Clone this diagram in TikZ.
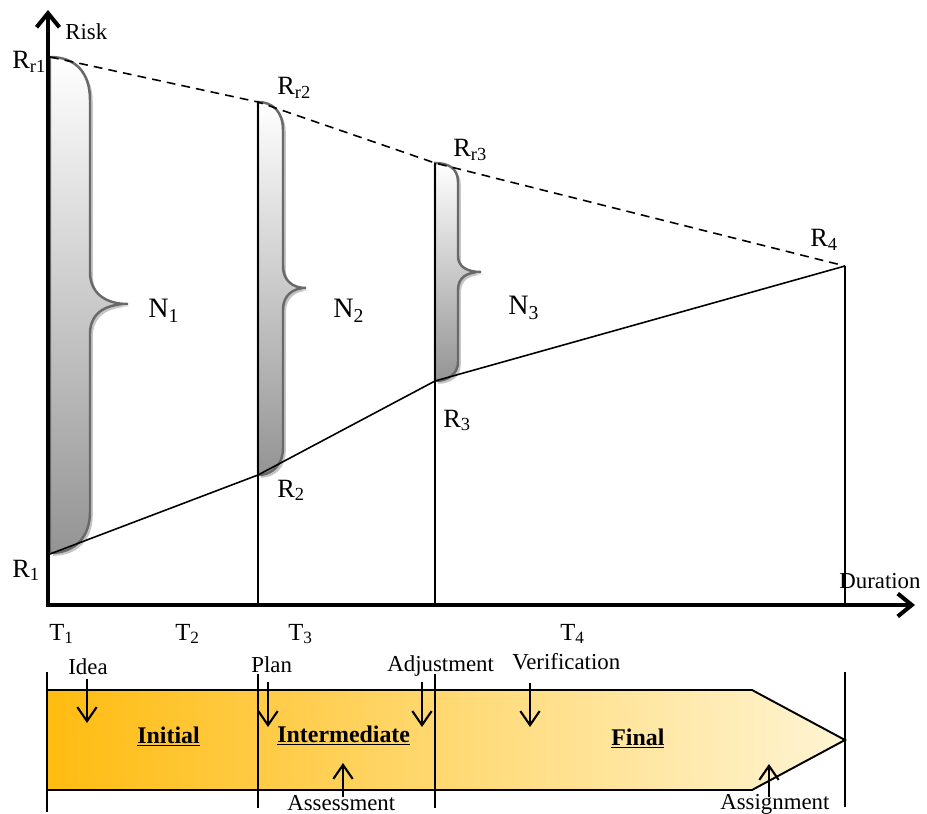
\documentclass[tikz,border=0pt]{standalone}
\usepackage{fontspec}
\setmainfont{Liberation Serif}
\usetikzlibrary{arrows.meta,shadows}
\definecolor{braceline}{RGB}{105,105,105}
\definecolor{phasel}{RGB}{255,188,16}
\definecolor{phaser}{RGB}{255,245,212}

\begin{document}
\begin{tikzpicture}[x=0.02cm,y=-0.02cm,
    axis/.style={line width=2.3pt,line join=miter},
    riskline/.style={line width=0.9pt},
    guide/.style={line width=0.7pt},
    tickline/.style={line width=1.1pt},
    evt/.style={line width=1.2pt,-{Straight Barb[length=8pt,width=11pt]}},
    bracefill/.style={draw=braceline,line width=1.4pt,top color=white,bottom color=black!42,
      drop shadow={shadow xshift=1.6pt,shadow yshift=-1.6pt,fill=black!45}},
    phase/.style={draw,line width=1.1pt,left color=phasel,right color=phaser}]
    \tikzstyle{every node}=[inner sep=0pt,anchor=base west]
    \tikzstyle{rlab}=[font=\fontsize{15}{17}\selectfont]
    \tikzstyle{nlab}=[font=\fontsize{16}{18}\selectfont]
    \tikzstyle{tlab}=[font=\fontsize{14}{16}\selectfont]
    \tikzstyle{slab}=[font=\fontsize{13}{15}\selectfont]
    \tikzstyle{plab}=[font=\fontsize{13.6}{16}\selectfont\bfseries]
    \useasboundingbox (0,0) rectangle (927,814);
    % risk points
    \coordinate (Rr1) at (50,57);
    \coordinate (Rr2) at (258,102);
    \coordinate (Rr3) at (435,163);
    \coordinate (R4) at (845,266);
    \coordinate (R1) at (50,554);
    \coordinate (R2) at (258,475);
    \coordinate (R3) at (435,381);
    \coordinate (O) at (48,605);
    \coordinate (ytip) at (48,10);
    \coordinate (xtip) at (915,605);
    \coordinate (B2) at (258,605);
    \coordinate (B3) at (435,605);
    \coordinate (B4) at (845,605);
    % braces
    \path[bracefill] (50,57) .. controls (75,57) and (90,72) .. (90,100) -- (90,272)
      .. controls (90,292) and (104,304) .. (128,304) .. controls (104,304) and (90,314) .. (90,334)
      -- (90,512) .. controls (90,537) and (75,553) .. (50,553) -- cycle; %N1
    \path[bracefill] (258,102) .. controls (273,102) and (283,112) .. (283,130) -- (283,266)
      .. controls (283,280) and (292,288) .. (306,288) .. controls (292,288) and (283,296) .. (283,310)
      -- (283,448) .. controls (283,465) and (272,475) .. (258,475) -- cycle; %N2
    \path[bracefill] (435,163) .. controls (448,163) and (458,168) .. (458,182) -- (458,256)
      .. controls (458,266) and (466,272) .. (481,272) .. controls (466,272) and (458,278) .. (458,290)
      -- (458,362) .. controls (458,374) and (448,381) .. (435,381) -- cycle; %N3
    % lines
    \draw[riskline,dash pattern=on 5pt off 3.5pt] (Rr1) -- (Rr2) -- (Rr3) -- (R4);
    \draw[riskline] (R1) -- (R2) -- (R3) -- (R4);
    \draw[guide] (Rr2) -- (B2);
    \draw[guide] (Rr3) -- (B3);
    \draw[guide] (R4) -- (B4);
    \draw[axis,{Straight Barb[length=8pt,width=13pt]}-{Straight Barb[length=8pt,width=13pt]}]
      (ytip) -- (O) -- (xtip);
    % labels
    \node[slab] (risk) at (65,40) {Risk};
    \node[slab] (dur) at (839,588) {Duration};
    \node[rlab] (lRr1) at (12,69) {R\textsubscript{r1}};
    \node[rlab] (lRr2) at (277,95) {R\textsubscript{r2}};
    \node[rlab] (lRr3) at (453,157) {R\textsubscript{r3}};
    \node[rlab] (lR4) at (810,247) {R\textsubscript{4}};
    \node[rlab] (lR1) at (12,577) {R\textsubscript{1}};
    \node[rlab] (lR2) at (277,497) {R\textsubscript{2}};
    \node[rlab] (lR3) at (443,427) {R\textsubscript{3}};
    \node[nlab] (lN1) at (148,318) {N\textsubscript{1}};
    \node[nlab] (lN2) at (333,318) {N\textsubscript{2}};
    \node[nlab] (lN3) at (508,315) {N\textsubscript{3}};
    \node[tlab] (lT1) at (49,640) {T\textsubscript{1}};
    \node[tlab] (lT2) at (175,640) {T\textsubscript{2}};
    \node[tlab] (lT3) at (288,640) {T\textsubscript{3}};
    \node[tlab] (lT4) at (560,640) {T\textsubscript{4}};
    % phases
    \path[phase] (47,690) -- (752,690) -- (845,740) -- (752,790) -- (47,790) -- cycle;
    \foreach \x/\ya/\yb in {47/672/812,258/674/808,435/674/808,845/672/807}
      \draw[tickline] (\x,\ya) -- (\x,\yb);
    \node[plab] (ini) at (137,743) {\underline{Initial}};
    \node[plab] (mid) at (277,742) {\underline{Intermediate}};
    \node[plab] (fin) at (611,745) {\underline{Final}};
    \node[slab] (idea) at (68,674) {Idea};
    \node[slab] (plan) at (251,672) {Plan};
    \node[slab] (adj) at (387,671) {Adjustment};
    \node[slab] (ver) at (512,669) {Verification};
    \node[slab] (ass) at (287,810) {Assessment};
    \node[slab] (asg) at (720,809) {Assignment};
    \foreach \name/\x/\ya/\yb in {idea/87/679/723,plan/268/682/727,adj/422/682/727,
        ver/530/683/727,ass/343/797/763,asg/769/797/764} {
      \coordinate (\name-s) at (\x,\ya);
      \coordinate (\name-e) at (\x,\yb);
      \draw[evt] (\name-s) -- (\name-e);
    }
\end{tikzpicture}
\end{document}
